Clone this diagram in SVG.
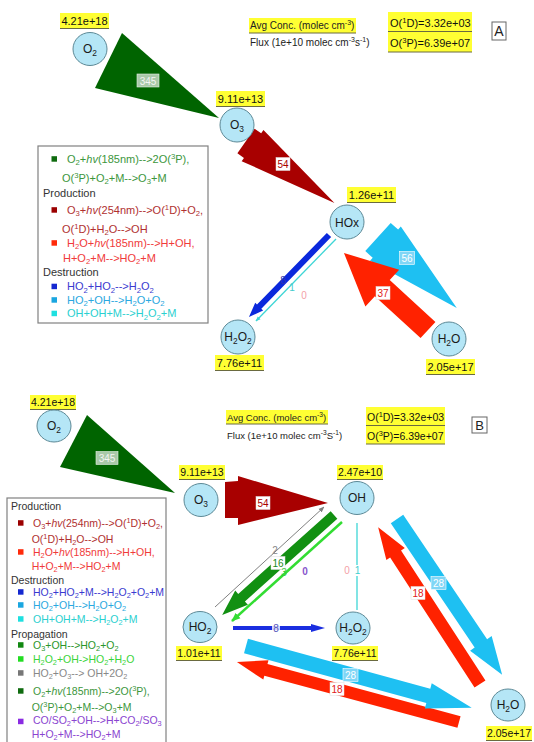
<svg xmlns="http://www.w3.org/2000/svg" width="534" height="742" viewBox="0 0 534 742">
<defs>
<marker id="mGray" viewBox="0 0 10 10" refX="9" refY="5" markerWidth="6" markerHeight="6" markerUnits="userSpaceOnUse" orient="auto"><path d="M0,1L10,5L0,9z" fill="#808080"/></marker>
<marker id="mLG" viewBox="0 0 10 10" refX="9" refY="5" markerWidth="9" markerHeight="9" markerUnits="userSpaceOnUse" orient="auto"><path d="M0,1L10,5L0,9z" fill="#33dd33"/></marker>
<marker id="mCy" viewBox="0 0 10 10" refX="9" refY="5" markerWidth="5" markerHeight="5" markerUnits="userSpaceOnUse" orient="auto"><path d="M0,1L10,5L0,9z" fill="#3ed6d6"/></marker>
</defs>
<style>
text{font-family:"Liberation Sans",Arial,sans-serif}
.s{font-size:70%}
.n{fill:#b5e6f6;stroke:#5d8996;stroke-width:1}
.nt{font-size:12px;fill:#1a1a1a;text-anchor:middle}
.yl{fill:#ffff33}
.ul{stroke:#6a6a40;stroke-width:1}
.lt{font-size:11px;fill:#111;text-anchor:middle}
.lb{font-size:10.5px;fill:#111;text-anchor:middle}
.box{fill:#fff;stroke:#808080;stroke-width:1.2}
.la{font-size:11px}
.lB{font-size:10.5px}
.hdr{fill:#333}
.cg{fill:#3c963c}.cdr{fill:#b03030}.cr{fill:#f03a3a}.cb{fill:#3a3ad0}.csk{fill:#2aa8e0}.ccy{fill:#2ad0d0}.cpg{fill:#2a962a}.cbg{fill:#3ad43a}.cgy{fill:#888}.cpu{fill:#8a44d0}
.al{font-size:10px;text-anchor:middle}
.wb{fill:#fff;stroke:#e0e0e0;stroke-width:.5}
.gb{fill:#a9c9a9;stroke:#e8f0e8;stroke-width:.6}
.cbx{fill:#7fd6f6;stroke:#fff;stroke-width:.6}
.hd{font-size:10px;fill:#222}
.hdB{font-size:9.5px;fill:#222}
</style>

<!-- ================= PANEL A ================= -->
<g id="legend-A">
<rect class="box" x="38" y="146" width="170" height="177"/>
<rect x="51.5" y="156.2" width="5.5" height="5.5" fill="#0f6b0f"/>
<text class="la cg" x="67" y="162.8">O<tspan class="s" dy="2.5">2</tspan><tspan dy="-2.5">+</tspan><tspan font-style="italic">hv</tspan>(185nm)--&gt;2O(<tspan class="s" dy="-4">3</tspan><tspan dy="4">P),</tspan></text>
<text class="la cg" x="62" y="181.8">O(<tspan class="s" dy="-4">3</tspan><tspan dy="4">P)+O</tspan><tspan class="s" dy="2.5">2</tspan><tspan dy="-2.5">+M--&gt;O</tspan><tspan class="s" dy="2.5">3</tspan><tspan dy="-2.5">+M</tspan></text>
<text class="la hdr" x="43" y="196.8">Production</text>
<rect x="51.5" y="207.2" width="5.5" height="5.5" fill="#9b0000"/>
<text class="la cdr" x="67" y="213.8">O<tspan class="s" dy="2.5">3</tspan><tspan dy="-2.5">+</tspan><tspan font-style="italic">hv</tspan>(254nm)--&gt;O(<tspan class="s" dy="-4">1</tspan><tspan dy="4">D)+O</tspan><tspan class="s" dy="2.5">2</tspan><tspan dy="-2.5">,</tspan></text>
<text class="la cdr" x="62" y="232.8">O(<tspan class="s" dy="-4">1</tspan><tspan dy="4">D)+H</tspan><tspan class="s" dy="2.5">2</tspan><tspan dy="-2.5">O--&gt;OH</tspan></text>
<rect x="51.5" y="240.2" width="5.5" height="5.5" fill="#ff2a0a"/>
<text class="la cr" x="67" y="246.8">H<tspan class="s" dy="2.5">2</tspan><tspan dy="-2.5">O+</tspan><tspan font-style="italic">hv</tspan>(185nm)--&gt;H+OH,</text>
<text class="la cr" x="63" y="261.8">H+O<tspan class="s" dy="2.5">2</tspan><tspan dy="-2.5">+M--&gt;HO</tspan><tspan class="s" dy="2.5">2</tspan><tspan dy="-2.5">+M</tspan></text>
<text class="la hdr" x="43" y="275.8">Destruction</text>
<rect x="51.5" y="283.7" width="5.5" height="5.5" fill="#1428d0"/>
<text class="la cb" x="67" y="290.3">HO<tspan class="s" dy="2.5">2</tspan><tspan dy="-2.5">+HO</tspan><tspan class="s" dy="2.5">2</tspan><tspan dy="-2.5">--&gt;H</tspan><tspan class="s" dy="2.5">2</tspan><tspan dy="-2.5">O</tspan><tspan class="s" dy="2.5">2</tspan></text>
<rect x="51.5" y="297.2" width="5.5" height="5.5" fill="#1aa6e0"/>
<text class="la csk" x="67" y="303.8">HO<tspan class="s" dy="2.5">2</tspan><tspan dy="-2.5">+OH--&gt;H</tspan><tspan class="s" dy="2.5">2</tspan><tspan dy="-2.5">O+O</tspan><tspan class="s" dy="2.5">2</tspan></text>
<rect x="51.5" y="310.7" width="5.5" height="5.5" fill="#1ee0e0"/>
<text class="la ccy" x="67" y="317.3">OH+OH+M--&gt;H<tspan class="s" dy="2.5">2</tspan><tspan dy="-2.5">O</tspan><tspan class="s" dy="2.5">2</tspan><tspan dy="-2.5">+M</tspan></text>
</g>

<g id="header-A">
<rect class="yl" x="249" y="18" width="107" height="15"/>
<line class="ul" x1="249" y1="33" x2="356" y2="33"/>
<text class="hd" x="250" y="29">Avg Conc. (molec cm<tspan class="s" dy="-4">-3</tspan><tspan dy="4">)</tspan></text>
<text class="hd" x="250" y="46">Flux (1e+10 molec cm<tspan class="s" dy="-4">-3</tspan><tspan dy="4">s</tspan><tspan class="s" dy="-4">-1</tspan><tspan dy="4">)</tspan></text>
<rect class="yl" x="388" y="12" width="84" height="40"/>
<line class="ul" x1="388" y1="31.5" x2="472" y2="31.5"/>
<line class="ul" x1="388" y1="52" x2="472" y2="52"/>
<text x="390" y="27" font-size="11" fill="#111">O(<tspan class="s" dy="-4">1</tspan><tspan dy="4">D)=3.32e+03</tspan></text>
<text x="390" y="47" font-size="11" fill="#111">O(<tspan class="s" dy="-4">3</tspan><tspan dy="4">P)=6.39e+07</tspan></text>
<rect x="492" y="22" width="14" height="18" fill="#fff" stroke="#666" stroke-width="1"/>
<text x="499" y="36" font-size="14" text-anchor="middle" fill="#222">A</text>
</g>

<!-- ================= PANEL B ================= -->
<g id="legend-B">
<rect class="box" x="7" y="498" width="159" height="252"/>
<text class="lB hdr" x="11" y="509.6">Production</text>
<rect x="18" y="520.2" width="5.5" height="5.5" fill="#9b0000"/>
<text class="lB cdr" x="33" y="526.6">O<tspan class="s" dy="2.4">3</tspan><tspan dy="-2.4">+</tspan><tspan font-style="italic">hv</tspan>(254nm)--&gt;O(<tspan class="s" dy="-3.8">1</tspan><tspan dy="3.8">D)+O</tspan><tspan class="s" dy="2.4">2</tspan><tspan dy="-2.4">,</tspan></text>
<text class="lB cdr" x="31.7" y="542.6">O(<tspan class="s" dy="-3.8">1</tspan><tspan dy="3.8">D)+H</tspan><tspan class="s" dy="2.4">2</tspan><tspan dy="-2.4">O--&gt;OH</tspan></text>
<rect x="18" y="549.2" width="5.5" height="5.5" fill="#ff2a0a"/>
<text class="lB cr" x="33" y="555.6">H<tspan class="s" dy="2.4">2</tspan><tspan dy="-2.4">O+</tspan><tspan font-style="italic">hv</tspan>(185nm)--&gt;H+OH,</text>
<text class="lB cr" x="31.7" y="569.6">H+O<tspan class="s" dy="2.4">2</tspan><tspan dy="-2.4">+M--&gt;HO</tspan><tspan class="s" dy="2.4">2</tspan><tspan dy="-2.4">+M</tspan></text>
<text class="lB hdr" x="11" y="583.6">Destruction</text>
<rect x="18" y="589.2" width="5.5" height="5.5" fill="#1428d0"/>
<text class="lB cb" x="33" y="595.6">HO<tspan class="s" dy="2.4">2</tspan><tspan dy="-2.4">+HO</tspan><tspan class="s" dy="2.4">2</tspan><tspan dy="-2.4">+M--&gt;H</tspan><tspan class="s" dy="2.4">2</tspan><tspan dy="-2.4">O</tspan><tspan class="s" dy="2.4">2</tspan><tspan dy="-2.4">+O</tspan><tspan class="s" dy="2.4">2</tspan><tspan dy="-2.4">+M</tspan></text>
<rect x="18" y="602.2" width="5.5" height="5.5" fill="#1aa6e0"/>
<text class="lB csk" x="33" y="608.6">HO<tspan class="s" dy="2.4">2</tspan><tspan dy="-2.4">+OH--&gt;H</tspan><tspan class="s" dy="2.4">2</tspan><tspan dy="-2.4">O+O</tspan><tspan class="s" dy="2.4">2</tspan></text>
<rect x="18" y="616.2" width="5.5" height="5.5" fill="#1ee0e0"/>
<text class="lB ccy" x="33" y="622.6">OH+OH+M--&gt;H<tspan class="s" dy="2.4">2</tspan><tspan dy="-2.4">O</tspan><tspan class="s" dy="2.4">2</tspan><tspan dy="-2.4">+M</tspan></text>
<text class="lB hdr" x="11" y="637.6">Propagation</text>
<rect x="18" y="642.2" width="5.5" height="5.5" fill="#118811"/>
<text class="lB cpg" x="33" y="648.6">O<tspan class="s" dy="2.4">3</tspan><tspan dy="-2.4">+OH--&gt;HO</tspan><tspan class="s" dy="2.4">2</tspan><tspan dy="-2.4">+O</tspan><tspan class="s" dy="2.4">2</tspan></text>
<rect x="18" y="656.2" width="5.5" height="5.5" fill="#22dd22"/>
<text class="lB cbg" x="33" y="662.6">H<tspan class="s" dy="2.4">2</tspan><tspan dy="-2.4">O</tspan><tspan class="s" dy="2.4">2</tspan><tspan dy="-2.4">+OH-&gt;HO</tspan><tspan class="s" dy="2.4">2</tspan><tspan dy="-2.4">+H</tspan><tspan class="s" dy="2.4">2</tspan><tspan dy="-2.4">O</tspan></text>
<rect x="18" y="670.2" width="5.5" height="5.5" fill="#777"/>
<text class="lB cgy" x="33" y="676.6">HO<tspan class="s" dy="2.4">2</tspan><tspan dy="-2.4">+O</tspan><tspan class="s" dy="2.4">3</tspan><tspan dy="-2.4">--&gt; OH+2O</tspan><tspan class="s" dy="2.4">2</tspan></text>
<rect x="18" y="688.2" width="5.5" height="5.5" fill="#0f6b0f"/>
<text class="lB cg" x="33" y="694.6">O<tspan class="s" dy="2.4">2</tspan><tspan dy="-2.4">+</tspan><tspan font-style="italic">hv</tspan>(185nm)--&gt;2O(<tspan class="s" dy="-3.8">3</tspan><tspan dy="3.8">P),</tspan></text>
<text class="lB cg" x="31.7" y="710.6">O(<tspan class="s" dy="-3.8">3</tspan><tspan dy="3.8">P)+O</tspan><tspan class="s" dy="2">2</tspan><tspan dy="-2">+M--&gt;O</tspan><tspan class="s" dy="2">3</tspan><tspan dy="-2">+M</tspan></text>
<rect x="18" y="718.7" width="5.5" height="5.5" fill="#8a2be2"/>
<text class="lB cpu" x="33" y="724.2">CO/SO<tspan class="s" dy="1.5">2</tspan><tspan dy="-1.5">+OH--&gt;H+CO</tspan><tspan class="s" dy="1.5">2</tspan><tspan dy="-1.5">/SO</tspan><tspan class="s" dy="1.5">3</tspan></text>
<text class="lB cpu" x="31.7" y="737.8">H+O<tspan class="s" dy="1.8">2</tspan><tspan dy="-1.8">+M--&gt;HO</tspan><tspan class="s" dy="1.8">2</tspan><tspan dy="-1.8">+M</tspan></text>
</g>

<g id="header-B">
<rect class="yl" x="226" y="410" width="102" height="14"/>
<line class="ul" x1="226" y1="424" x2="328" y2="424"/>
<text class="hdB" x="227" y="420.5">Avg Conc. (molec cm<tspan class="s" dy="-3.8">-3</tspan><tspan dy="3.8">)</tspan></text>
<text class="hdB" x="227" y="438.5">Flux (1e+10 molec cm<tspan class="s" dy="-3.8">-3</tspan><tspan dy="3.8">S</tspan><tspan class="s" dy="-3.8">-1</tspan><tspan dy="3.8">)</tspan></text>
<rect class="yl" x="366" y="407" width="79" height="37"/>
<line class="ul" x1="366" y1="425.5" x2="445" y2="425.5"/>
<line class="ul" x1="366" y1="444" x2="445" y2="444"/>
<text x="367" y="421" font-size="10.5" fill="#111">O(<tspan class="s" dy="-3.8">1</tspan><tspan dy="3.8">D)=3.32e+03</tspan></text>
<text x="367" y="440" font-size="10.5" fill="#111">O(<tspan class="s" dy="-3.8">3</tspan><tspan dy="3.8">P)=6.39e+07</tspan></text>
<rect x="472" y="417" width="15" height="16" fill="#fff" stroke="#666" stroke-width="1"/>
<text x="479.5" y="430" font-size="13" text-anchor="middle" fill="#222">B</text>
</g>

<!-- ================= CONNECTORS ================= -->
<g id="connectors">
<!-- A -->
<polygon points="122,33 95,88 219,118" fill="#006400"/>
<polygon transform="translate(246,141) rotate(35)" points="0,-15 8,-15 8,-19 108,0 8,19 8,15 0,15" fill="#a80000"/>
<polygon transform="translate(378,237) rotate(42)" points="0,-19 10,-19 10,-23 106,0 10,23 10,19 0,19" fill="#1ec0f2"/>
<polygon transform="translate(428,330) rotate(222.5)" points="0,-11 62,-11 62,-25 114,0 62,25 62,11 0,11" fill="#ff2200"/>
<polygon transform="translate(329,235) rotate(134.3)" points="0,-3 100,-3 100,-5.5 114.6,0 100,5.5 100,3 0,3" fill="#0a28dc"/>
<line x1="336" y1="239" x2="256" y2="321" stroke="#3ed6d6" stroke-width="1.3" marker-end="url(#mCy)"/>
<!-- B -->
<polygon points="87,415 60,467 175,493" fill="#006400"/>
<polygon points="225,482 238,481 238,476 328,503 238,525 238,518 225,518" fill="#a80000"/>
<polygon transform="translate(334,515) rotate(138.2)" points="0,-5 124,-5 124,-9.5 150,0 124,9.5 124,5 0,5" fill="#129012"/>
<line x1="215" y1="607" x2="324" y2="507" stroke="#808080" stroke-width="1" marker-end="url(#mGray)"/>
<line x1="342" y1="522" x2="232" y2="621" stroke="#33dd33" stroke-width="2.5" marker-end="url(#mLG)"/>
<line x1="357" y1="523" x2="357" y2="610" stroke="#3ed6d6" stroke-width="1.3"/>
<polygon transform="translate(233,628)" points="0,-2 78,-2 78,-4 92,0 78,4 78,2 0,2" fill="#1a2ee0"/>
<polygon transform="translate(480,684) rotate(237)" points="0,-6.5 155,-6.5 155,-11 187,0 155,11 155,6.5 0,6.5" fill="#ff2200"/>
<polygon transform="translate(397,519) rotate(56)" points="0,-7.5 150,-7.5 150,-13 188,0 150,13 150,7.5 0,7.5" fill="#1ec0f2"/>
<polygon transform="translate(459,722) rotate(195.1)" points="0,-6 200,-6 200,-10 230,0 200,10 200,6 0,6" fill="#ff2200"/>
<polygon transform="translate(246,646) rotate(15.3)" points="0,-7.5 189,-7.5 189,-13 234,0 189,13 189,7.5 0,7.5" fill="#1ec0f2"/>
</g>

<g id="connector-labels">
<!-- A -->
<rect class="gb" x="137" y="74" width="22" height="13"/><text class="al" x="148" y="84.5" fill="#f4f4f4">345</text>
<rect class="wb" x="276" y="157.5" width="14" height="13"/><text class="al" x="283" y="168" fill="#a80000">54</text>
<rect class="cbx" x="399.5" y="251.5" width="15" height="13"/><text class="al" x="407" y="262" fill="#fff">56</text>
<rect class="wb" x="376" y="286.5" width="14" height="13"/><text class="al" x="383" y="297" fill="#e02020">37</text>
<text class="al" x="283" y="284" fill="#3333aa">8</text>
<text class="al" x="292" y="291" fill="#44cccc">1</text>
<text class="al" x="304" y="299" fill="#f4a0a8">0</text>
<!-- B -->
<rect class="gb" x="96" y="451.5" width="22" height="13"/><text class="al" x="107" y="462" fill="#f4f4f4">345</text>
<rect class="wb" x="256" y="496.5" width="14" height="13"/><text class="al" x="263" y="507" fill="#a80000">54</text>
<text class="al" x="275" y="554" fill="#888">2</text>
<rect class="wb" x="271" y="556.5" width="14" height="13"/><text class="al" x="278" y="567" fill="#1a8a1a">16</text>
<text class="al" x="284" y="576" fill="#33cc33">3</text>
<text class="al" x="305" y="575" fill="#8855cc" font-weight="bold">0</text>
<text class="al" x="347" y="574" fill="#f4a0a8">0</text>
<rect x="353" y="565" width="8" height="11" fill="#fff"/><text class="al" x="357.5" y="574" fill="#40d0d0">1</text>
<rect x="272" y="623" width="8" height="10" fill="#fff" fill-opacity="0.8"/><text class="al" x="276" y="631.5" fill="#5555bb" font-size="9">8</text>
<rect class="wb" x="411" y="586.5" width="14" height="13"/><text class="al" x="418" y="597" fill="#e02020">18</text>
<rect class="cbx" x="431" y="576.5" width="15" height="13"/><text class="al" x="438.5" y="587" fill="#fff">28</text>
<rect class="cbx" x="343" y="668.5" width="15" height="13"/><text class="al" x="350.5" y="679" fill="#fff">28</text>
<rect class="wb" x="330" y="682.5" width="14" height="13"/><text class="al" x="337" y="693" fill="#e02020">18</text>
</g>

<!-- ================= NODES A ================= -->
<g id="node-O2-A">
<rect class="yl" x="60" y="13" width="49" height="15"/><line class="ul" x1="60" y1="28.5" x2="109" y2="28.5"/>
<text class="lt" x="84.5" y="25">4.21e+18</text>
<ellipse class="n" cx="90" cy="49" rx="17" ry="16.5"/>
<text class="nt" x="90" y="52.5">O<tspan class="s" dy="3">2</tspan></text>
</g>
<g id="node-O3-A">
<rect class="yl" x="216" y="91" width="49" height="15"/><line class="ul" x1="216" y1="106.5" x2="265" y2="106.5"/>
<text class="lt" x="240.5" y="102.5">9.11e+13</text>
<circle class="n" cx="237" cy="125" r="17"/>
<text class="nt" x="237" y="128.5">O<tspan class="s" dy="3">3</tspan></text>
</g>
<g id="node-HOx-A">
<rect class="yl" x="347" y="187" width="49" height="15"/><line class="ul" x1="347" y1="202.5" x2="396" y2="202.5"/>
<text class="lt" x="371.5" y="198.5">1.26e+11</text>
<circle class="n" cx="347" cy="222" r="17"/>
<text class="nt" x="347" y="226.5">HOx</text>
</g>
<g id="node-H2O2-A">
<circle class="n" cx="238" cy="337" r="17"/>
<text class="nt" x="238" y="340.5" font-size="11">H<tspan class="s" dy="3">2</tspan><tspan dy="-3">O</tspan><tspan class="s" dy="3">2</tspan></text>
<rect class="yl" x="215" y="355" width="49" height="15"/><line class="ul" x1="215" y1="370.5" x2="264" y2="370.5"/>
<text class="lt" x="239.5" y="366.5">7.76e+11</text>
</g>
<g id="node-H2O-A">
<circle class="n" cx="449" cy="339" r="17"/>
<text class="nt" x="449" y="342.5">H<tspan class="s" dy="3">2</tspan><tspan dy="-3">O</tspan></text>
<rect class="yl" x="426" y="359" width="49" height="15"/><line class="ul" x1="426" y1="374.5" x2="475" y2="374.5"/>
<text class="lt" x="450.5" y="370.5">2.05e+17</text>
</g>

<!-- ================= NODES B ================= -->
<g id="node-O2-B">
<rect class="yl" x="30" y="395" width="46" height="14"/><line class="ul" x1="30" y1="409.5" x2="76" y2="409.5"/>
<text class="lb" x="53" y="405.5">4.21e+18</text>
<ellipse class="n" cx="54" cy="426" rx="17" ry="16"/>
<text class="nt" x="54" y="429.5">O<tspan class="s" dy="3">2</tspan></text>
</g>
<g id="node-O3-B">
<rect class="yl" x="179" y="465" width="46" height="14"/><line class="ul" x1="179" y1="479.5" x2="225" y2="479.5"/>
<text class="lb" x="202" y="475.5">9.11e+13</text>
<ellipse class="n" cx="201" cy="500" rx="17" ry="16.5"/>
<text class="nt" x="201" y="503.5">O<tspan class="s" dy="3">3</tspan></text>
</g>
<g id="node-OH-B">
<rect class="yl" x="337" y="465" width="46" height="14"/><line class="ul" x1="337" y1="479.5" x2="383" y2="479.5"/>
<text class="lb" x="360" y="475.5">2.47e+10</text>
<ellipse class="n" cx="357" cy="498" rx="17" ry="16.5"/>
<text class="nt" x="357" y="502">OH</text>
</g>
<g id="node-HO2-B">
<ellipse class="n" cx="200" cy="627" rx="17" ry="15.5"/>
<text class="nt" x="200" y="630.5" font-size="11.5">HO<tspan class="s" dy="3">2</tspan></text>
<rect class="yl" x="176" y="646" width="46" height="14"/><line class="ul" x1="176" y1="660.5" x2="222" y2="660.5"/>
<text class="lb" x="199" y="656.5">1.01e+11</text>
</g>
<g id="node-H2O2-B">
<ellipse class="n" cx="353" cy="628" rx="17" ry="16"/>
<text class="nt" x="353" y="631.5" font-size="11">H<tspan class="s" dy="3">2</tspan><tspan dy="-3">O</tspan><tspan class="s" dy="3">2</tspan></text>
<rect class="yl" x="332" y="646" width="46" height="14"/><line class="ul" x1="332" y1="660.5" x2="378" y2="660.5"/>
<text class="lb" x="355" y="656.5">7.76e+11</text>
</g>
<g id="node-H2O-B">
<ellipse class="n" cx="508" cy="705" rx="17" ry="16"/>
<text class="nt" x="508" y="708.5" font-size="11.5">H<tspan class="s" dy="3">2</tspan><tspan dy="-3">O</tspan></text>
<rect class="yl" x="486" y="726" width="46" height="14"/><line class="ul" x1="486" y1="740.5" x2="532" y2="740.5"/>
<text class="lb" x="509" y="736.5">2.05e+17</text>
</g>
</svg>
